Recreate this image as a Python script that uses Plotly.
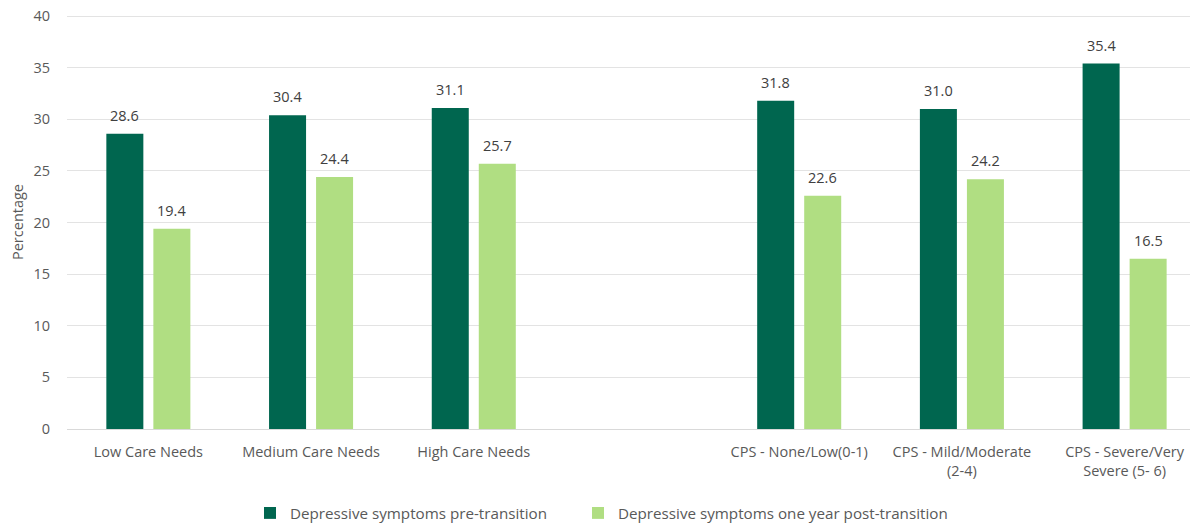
import plotly.graph_objects as go

categories = ["Low Care Needs", "Medium Care Needs", "High Care Needs", " ",
              "CPS - None/Low(0-1)", "CPS - Mild/Moderate<br>(2-4)", "CPS - Severe/Very<br>Severe (5- 6)"]
pre_values = [28.6, 30.4, 31.1, None, 31.8, 31.0, 35.4]
post_values = [19.4, 24.4, 25.7, None, 22.6, 24.2, 16.5]
series_names = ["Depressive symptoms pre-transition", "Depressive symptoms one year post-transition"]
y_ticks = [0, 5, 10, 15, 20, 25, 30, 35, 40]

DARK = "#00664F"
LIGHT = "#B0DE82"
FONT = "Open Sans"
TXT = "#595959"
FS = 14.5
W, H = 1190, 517

fig = go.Figure()
fig.add_trace(go.Bar(x=categories, y=pre_values, name=series_names[0],
                     marker=dict(color=DARK, line=dict(width=0)), legend="legend"))
fig.add_trace(go.Bar(x=categories, y=post_values, name=series_names[1],
                     marker=dict(color=LIGHT, line=dict(width=0)), legend="legend2"))

# data labels
annotations = []
for i, c in enumerate(categories):
    for vals, off in ((pre_values, -1), (post_values, 1)):
        v = vals[i]
        if v is None:
            continue
        annotations.append(dict(x=c, y=v, xref="x", yref="y", text=f"{v:.1f}",
                                showarrow=False, yanchor="bottom", yshift=7,
                                xshift=off * 23.5,
                                font=dict(family=FONT, size=FS, color="#404040")))

leg_common = dict(orientation="h", xanchor="left", xref="container",
                  y=(H - 505) / H, yanchor="middle", yref="container",
                  font=dict(family=FONT, size=15.2, color=TXT),
                  bgcolor="rgba(0,0,0,0)")

fig.update_layout(
    width=W, height=H,
    margin=dict(l=59, r=0, t=7, b=96, autoexpand=False),
    paper_bgcolor="white", plot_bgcolor="white",
    barmode="group", bargap=0.422, bargroupgap=0.213,
    font=dict(family=FONT, size=FS, color=TXT),
    annotations=annotations,
    legend=dict(x=(250 - 8) / W, **leg_common),
    legend2=dict(x=(578 - 8) / W, **leg_common),
    showlegend=True,
)
fig.update_xaxes(type="category", categoryorder="array", categoryarray=categories,
                 range=[-0.5, 6.451], showgrid=False, showline=True,
                 linecolor="#D9D9D9", linewidth=1, ticks="", tickangle=0,
                 automargin=False, ticklabelstandoff=10,
                 tickfont=dict(family=FONT, size=FS, color=TXT))
fig.update_yaxes(range=[0, 40.1], tickvals=y_ticks, showgrid=True, gridcolor="#E3E3E3",
                 gridwidth=1, zeroline=False, showline=False, ticks="",
                 ticklabelstandoff=16, automargin=False, ticklabeloverflow="allow",
                 tickfont=dict(family=FONT, size=FS, color=TXT),
                 title=dict(text="Percentage", standoff=6,
                            font=dict(family=FONT, size=FS, color=TXT)))

fig.write_html("out.html")
